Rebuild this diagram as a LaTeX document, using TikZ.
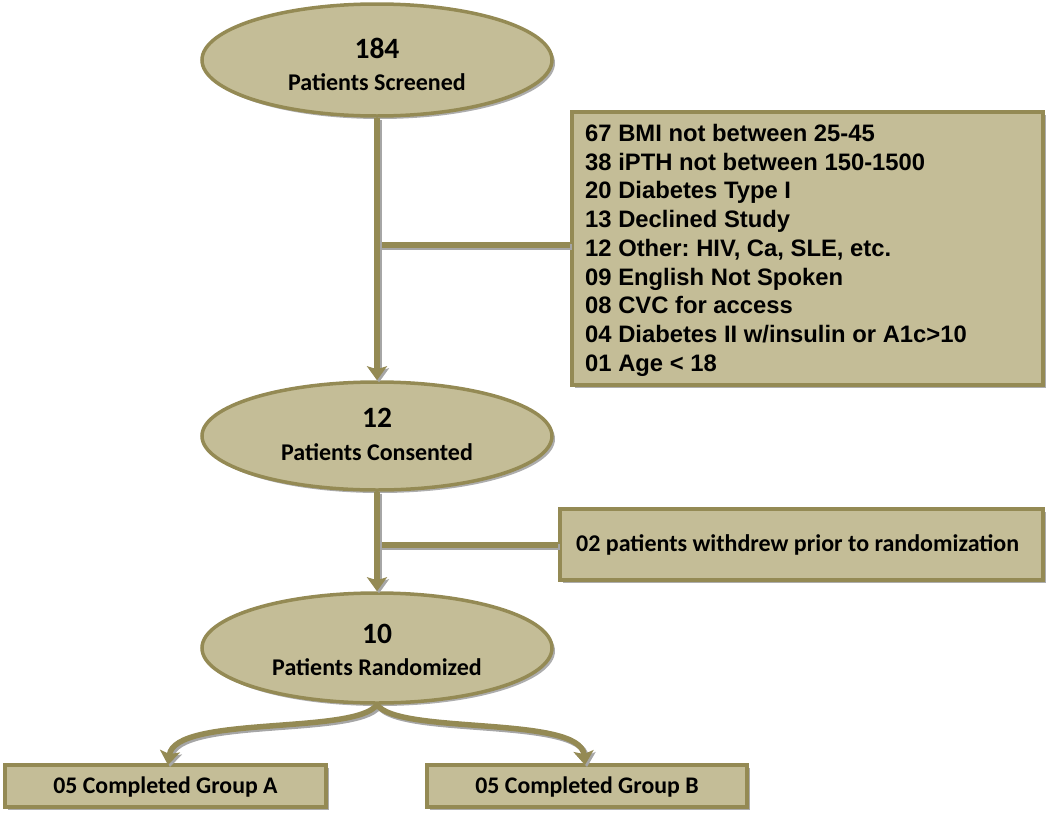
\documentclass[tikz,border=0pt]{standalone}
\usepackage{fontspec}
\setmainfont{Carlito}
\newfontfamily\arialf{Liberation Sans}
\usetikzlibrary{shapes.geometric,shadows,arrows.meta}
\definecolor{tanfill}{HTML}{C4BD97}
\definecolor{olivec}{HTML}{948A54}
\frenchspacing
\tikzset{
  shd/.style={drop shadow={shadow xshift=3pt,shadow yshift=-3pt,fill=black!40,opacity=0.8}},
  ell/.style={ellipse,draw=olivec,line width=3.5pt,fill=tanfill,shd,inner sep=0pt},
  boxx/.style={rectangle,draw=olivec,line width=3.5pt,fill=tanfill,shd,inner sep=0pt},
  numtxt/.style={font=\fontsize{29.5}{34}\selectfont\bfseries,inner sep=0pt},
  labtxt/.style={font=\fontsize{24}{28}\selectfont\bfseries,inner sep=0pt},
  listtxt/.style={font=\arialf\fontsize{23.8}{28}\selectfont\bfseries,inner sep=0pt,anchor=base west},
  conn/.style={draw=olivec,line width=5.5pt,
    preaction={draw=black!35,line width=5.5pt,transform canvas={xshift=2pt,yshift=-2pt}}},
  tip/.style={-{Stealth[width=20pt,length=14pt,inset=3pt]}},
}
\begin{document}
\begin{tikzpicture}[x=1pt,y=-1pt]
\useasboundingbox (0,0) rectangle (1050,814);
% ellipses
\node[ell,minimum width=350pt,minimum height=112pt] (e1) at (377,60) {};
\node[numtxt] (e1a) at (377,48) {184};
\node[labtxt] (e1b) at (377,82) {Patients Screened};
\node[ell,minimum width=350pt,minimum height=108pt] (e2) at (377,436) {};
\node[numtxt] (e2a) at (377,418) {12};
\node[labtxt] (e2b) at (377,452) {Patients Consented};
\node[ell,minimum width=350pt,minimum height=110pt] (e3) at (377,648) {};
\node[numtxt] (e3a) at (377,634) {10};
\node[labtxt] (e3b) at (377,667) {Patients Randomized};
% exclusion box
\node[boxx,minimum width=471pt,minimum height=273pt] (b1) at (807.5,248.5) {};
\foreach \t [count=\i from 0] in {67 BMI not between 25-45,38 iPTH not between 150-1500,20 Diabetes Type I,13 Declined Study,{12 Other: HIV, Ca, SLE, etc.},09 English Not Spoken,08 CVC for access,04 Diabetes II w/insulin or A1c>10,01 Age < 18}
  \node[listtxt] (r\i) at (585,{141.5+28.7*\i}) {\t};
% withdrawal box
\node[boxx,minimum width=483pt,minimum height=71pt] (b2) at (801.5,544.5) {};
\node[labtxt,anchor=west] (b2t) at (576,545) {02 patients withdrew prior to randomization};
% group boxes
\node[boxx,minimum width=321pt,minimum height=42pt] (ga) at (165.5,786) {};
\node[labtxt,font=\fontsize{23.8}{28}\selectfont\bfseries] (gat) at (165.5,787) {05 Completed Group A};
\node[boxx,minimum width=320pt,minimum height=42pt] (gb) at (587,786) {};
\node[labtxt,font=\fontsize{23.8}{28}\selectfont\bfseries] (gbt) at (587,787) {05 Completed Group B};
% connectors
\coordinate (j1) at (e1.south |- 0,245);
\coordinate (j2) at (e2.south |- 0,545);
\coordinate (ta) at (168,765);
\coordinate (tb) at (585,765);
\draw[conn] (j1) -- (j1 -| b1.west);
\draw[conn] (j2) -- (j2 -| b2.west);
\draw[conn,tip] (e1.south) -- (e2.north);
\draw[conn,tip] (e2.south) -- (e3.north);
\draw[conn,tip] (e3.south) .. controls (355,735) and (175,715) .. (ta);
\draw[conn,tip] (e3.south) .. controls (399,735) and (580,715) .. (tb);
\end{tikzpicture}
\end{document}
